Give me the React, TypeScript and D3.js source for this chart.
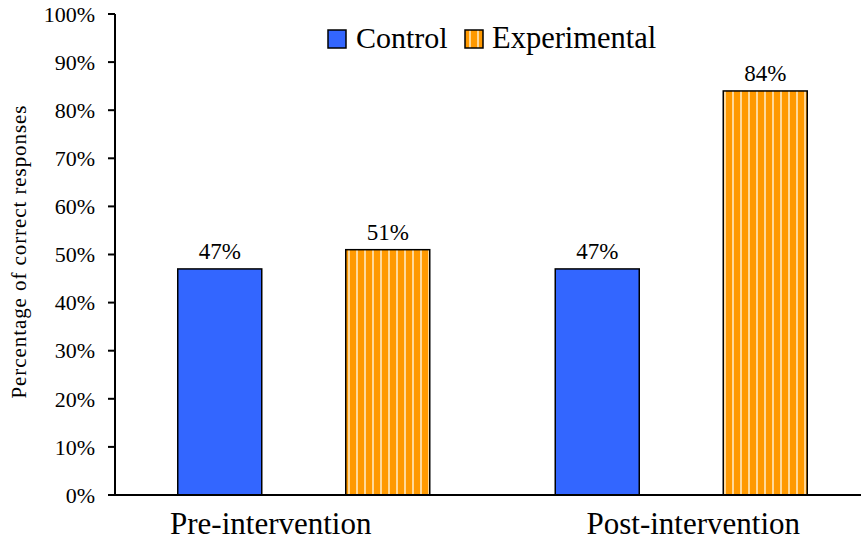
import React from "react";
import * as d3 from "d3";

const categories = ["Pre-intervention", "Post-intervention"];
const seriesNames = ["Control", "Experimental"];
const controlValues = [47, 47];
const experimentalValues = [51, 84];
const yTicks = [0, 10, 20, 30, 40, 50, 60, 70, 80, 90, 100];

const W = 861, H = 542;
const left = 115, right = 870, top = 14, bottom = 495;
const font = "'Liberation Serif', 'Times New Roman', serif";
const labelOffsets = [-33, 12];

export default function App() {
  const x = d3.scaleBand<string>().domain(categories).range([left, right]);
  const y = d3.scaleLinear().domain([0, 100]).range([bottom, top]);
  const barW = 84;
  const gap = 84;
  const series = [
    { name: seriesNames[0], values: controlValues, fill: "#3366FF" },
    { name: seriesNames[1], values: experimentalValues, fill: "url(#stripes)" },
  ];
  const groupW = barW * 2 + gap;
  return (
    <svg width={W} height={H} style={{ position: "absolute", left: 0, top: 0 }}>
      <defs>
        <pattern id="stripes" patternUnits="userSpaceOnUse" width={8} height={8} x={1}>
          <rect width={8} height={8} fill="#FF9900" />
          <rect x={3} width={2} height={8} fill="#FFD99A" />
        </pattern>
        <pattern id="legstripes" patternUnits="userSpaceOnUse" width={8} height={8} x={466}>
          <rect width={8} height={8} fill="#FF9900" />
          <rect x={3} width={2} height={8} fill="#FFD99A" />
        </pattern>
      </defs>
      {yTicks.map((t) => (
        <g key={t}>
          <line x1={108} x2={left} y1={y(t)} y2={y(t)} stroke="#000" strokeWidth={2} />
          <text x={95} y={y(t)} dy="0.35em" textAnchor="end" fontFamily={font} fontSize={22}>
            {t}%
          </text>
        </g>
      ))}
      {categories.map((c, i) => {
        const cx = x(c)! + x.bandwidth() / 2;
        const gx = cx - groupW / 2;
        return (
          <g key={c}>
            {series.map((s, j) => {
              const bx = gx + j * (barW + gap);
              const v = s.values[i];
              return (
                <g key={s.name}>
                  <rect x={bx} y={y(v)} width={barW} height={y(0) - y(v)} fill={s.fill} stroke="#000" strokeWidth={1.5} />
                  <text x={bx + barW / 2} y={y(v) - 10} textAnchor="middle" fontFamily={font} fontSize={23}>
                    {v}%
                  </text>
                </g>
              );
            })}
            <text x={cx + labelOffsets[i]} y={534} textAnchor="middle" fontFamily={font} fontSize={31}>
              {c}
            </text>
          </g>
        );
      })}
      <line x1={left} x2={left} y1={top} y2={bottom} stroke="#000" strokeWidth={2} />
      <line x1={108} x2={W} y1={bottom} y2={bottom} stroke="#000" strokeWidth={2} />
      <text
        transform={`translate(26, 252) rotate(-90)`}
        textAnchor="middle"
        fontFamily={font}
        fontSize={21}
        textLength={293}
        lengthAdjust="spacing"
      >
        Percentage of correct responses
      </text>
      <g>
        <rect x={328} y={30} width={18} height={18} fill="#3366FF" stroke="#000" strokeWidth={1.5} />
        <text x={356} y={48} fontFamily={font} fontSize={30}>{seriesNames[0]}</text>
        <rect x={465} y={30} width={18} height={18} fill="url(#legstripes)" stroke="#000" strokeWidth={1.5} />
        <text x={492} y={48} fontFamily={font} fontSize={30.5}>{seriesNames[1]}</text>
      </g>
    </svg>
  );
}
